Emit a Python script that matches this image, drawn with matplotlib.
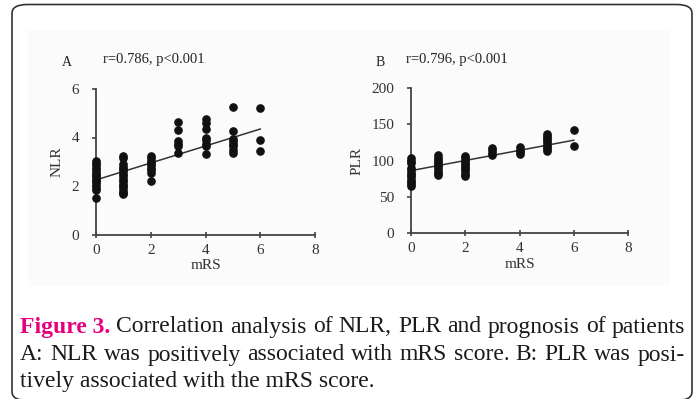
import numpy as np
import matplotlib
matplotlib.use("Agg")
import matplotlib.pyplot as plt
from matplotlib.patches import FancyBboxPatch, Rectangle

# NLR vs mRS (panel A)
mrs_a = [0]*15 + [1]*16 + [2]*9 + [3]*6 + [4]*8 + [5]*8 + [6]*3
nlr = [3.05, 2.95, 2.85, 2.75, 2.65, 2.55, 2.45, 2.4, 2.3, 2.2, 2.15, 2.05, 1.9, 1.85, 1.5,
       3.25, 3.15, 2.9, 2.8, 2.7, 2.6, 2.5, 2.4, 2.3, 2.2, 2.1, 2.0, 1.9, 1.8, 1.7, 1.65,
       3.25, 3.15, 3.05, 2.95, 2.85, 2.75, 2.65, 2.55, 2.2,
       4.65, 4.3, 3.85, 3.75, 3.65, 3.35,
       4.75, 4.6, 4.35, 4.0, 3.9, 3.75, 3.65, 3.3,
       5.25, 4.25, 3.95, 3.85, 3.75, 3.65, 3.5, 3.35,
       5.2, 3.9, 3.45]
# trend line: value at mRS 0 and mRS 6
fit_x = [0, 6]
fit_nlr = [2.25, 4.35]

# PLR vs mRS (panel B)
mrs_b = [0]*12 + [1]*10 + [2]*10 + [3]*4 + [4]*4 + [5]*9 + [6]*2
plr = [103, 100, 97, 90, 87, 83, 80, 77, 73, 70, 67, 65,
       107, 104, 101, 98, 95, 92, 89, 86, 83, 80,
       106, 103, 100, 97, 94, 91, 88, 85, 82, 78,
       117, 114, 111, 108,
       118, 115, 112, 109,
       137, 134, 131, 128, 125, 122, 119, 116, 113,
       142, 120]
fit_plr = [86, 128]

W, H = 697, 399
fig = plt.figure(figsize=(W/100, H/100), dpi=100)

def fx(px):
    return px / W

def fy(py):
    return 1 - py / H

# outer rounded frame and faint panel
fig.patches.append(Rectangle((fx(28), fy(285)), fx(668)-fx(28), fy(30)-fy(285),
                             transform=fig.transFigure, color="#fbfbfb", zorder=-2))
fig.patches.append(FancyBboxPatch((fx(12), fy(400.5)), fx(692)-fx(12), fy(4.5)-fy(400.5),
                                  boxstyle="round,pad=0,rounding_size=0.022",
                                  transform=fig.transFigure, fill=False,
                                  edgecolor="#333333", linewidth=1.2, zorder=-1))

serif = "Liberation Serif"

def panel(rect, x, y, fy_vals, ylim, yticks, ylabel, letter, stat, letter_x, stat_x):
    ax = fig.add_axes(rect)
    ax.set_facecolor("none")
    ax.plot(x, y, "o", color="#111111", markersize=5.2, zorder=3, clip_on=False)
    ax.plot(fit_x, fy_vals, color="#333333", linewidth=1.1, zorder=2)
    ax.set_xlim(0, 8)
    ax.set_ylim(*ylim)
    ax.set_xticks([0, 2, 4, 6, 8])
    ax.set_yticks(yticks)
    for s in ["top", "right"]:
        ax.spines[s].set_visible(False)
    for s in ["left", "bottom"]:
        ax.spines[s].set_color("#444444")
        ax.spines[s].set_linewidth(1.3)
    ax.tick_params(axis="x", direction="inout", length=5, width=1.2, color="#444444",
                   labelsize=11, labelcolor="#333333", pad=4)
    ax.tick_params(axis="y", direction="out", length=3, width=1.2, color="#444444",
                   labelsize=11, labelcolor="#333333", pad=9)
    for lab in ax.get_xticklabels() + ax.get_yticklabels():
        lab.set_fontfamily(serif)
    ax.set_xlabel("mRS", fontfamily=serif, fontsize=11, color="#333333", labelpad=2)
    ax.set_ylabel(ylabel, fontfamily=serif, fontsize=11, color="#333333", labelpad=6)
    fig.text(fx(letter_x), fy(62), letter, fontfamily=serif, fontsize=10,
             color="#222222", va="center", ha="left")
    fig.text(fx(stat_x), fy(60), stat, fontfamily=serif, fontsize=10.5,
             color="#222222", va="center", ha="left")
    return ax

panel([fx(96), fy(234.5), fx(315)-fx(96), fy(89)-fy(234.5)], mrs_a, nlr, fit_nlr,
      (0, 6), [0, 2, 4, 6], "NLR", "A", "r=0.786, p<0.001", 62, 103)
panel([fx(411), fy(233), fx(628)-fx(411), fy(88)-fy(233)], mrs_b, plr, fit_plr,
      (0, 200), [0, 50, 100, 150, 200], "PLR", "B", "r=0.796, p<0.001", 376, 406)

# caption
cap_size = 17
cap_kw = dict(fontfamily=serif, fontsize=cap_size, color="#1a1a1a", va="center", ha="left")
x_left, x_right = 20, 685
renderer = fig.canvas.get_renderer()

def justify(words, y, first_kw=None):
    # place words so the line fills x_left..x_right
    texts = []
    for i, w in enumerate(words):
        kw = dict(cap_kw)
        if i == 0 and first_kw:
            kw.update(first_kw)
        texts.append(fig.text(0, fy(y), w, **kw))
    widths = [t.get_window_extent(renderer).width for t in texts]
    gap = (x_right - x_left - sum(widths)) / (len(words) - 1)
    x = x_left
    for t, wd in zip(texts, widths):
        t.set_x(fx(x))
        x += wd + gap

justify(["Figure 3."] + "Correlation analysis of NLR, PLR and prognosis of patients".split(), 327,
        first_kw=dict(fontweight="bold", color="#e6007e"))
justify("A: NLR was positively associated with mRS score. B: PLR was posi-".split(), 355)
fig.text(fx(x_left), fy(382), "tively associated with the mRS score.", **cap_kw)

fig.savefig("out.png", dpi=100)
